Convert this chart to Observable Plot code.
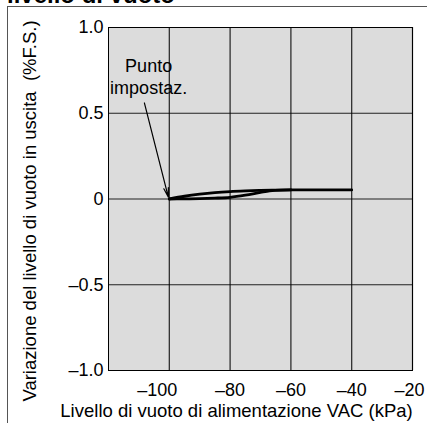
<!DOCTYPE html>
<html>
<head>
<meta charset="utf-8">
<script src="https://cdn.jsdelivr.net/npm/d3@7"></script>
<script src="https://cdn.jsdelivr.net/npm/@observablehq/plot@0.6"></script>
<style>
  html, body { margin: 0; padding: 0; background: #fff; }
  #wrap { position: relative; width: 427px; height: 423px; overflow: hidden; font-family: "Liberation Sans", Arial, sans-serif; }
  #title { position: absolute; left: 7px; top: -19px; font-size: 24px; line-height: 28px; font-weight: bold; color: #000; white-space: nowrap; }
  #border { position: absolute; left: 7px; top: 6px; width: 430px; height: 430px; border-left: 1.5px solid #555; border-top: 1.5px solid #555; }
  #chart { position: absolute; left: 0; top: 0; }
</style>
</head>
<body>
<div id="wrap">
  <div id="title">livello di vuoto</div>
  <div id="border"></div>
  <div id="chart"></div>
</div>
<script>
const xTicks = [-100, -80, -60, -40, -20];
const yTicks = [-1.0, -0.5, 0, 0.5, 1.0];
const yTickLabels = ["\u20131.0", "\u20130.5", "0", "0.5", "1.0"];
const xTickLabels = ["\u2013100", "\u201380", "\u201360", "\u201340", "\u201320"];

const upperX = [-100, -95, -90, -85, -80, -75, -70, -65, -60, -50, -40];
const upperY = [0, 0.016, 0.028, 0.037, 0.043, 0.047, 0.050, 0.052, 0.053, 0.053, 0.053];
const lowerX = [-100, -95, -90, -85, -80, -75, -70, -67, -63, -60];
const lowerY = [0, 0.001, 0.002, 0.005, 0.010, 0.022, 0.038, 0.047, 0.052, 0.053];

const annoLines = ["Punto", "impostaz."];
const arrowFrom = {x: -108.2, y: 0.56};
const arrowTo = {x: -100.3, y: 0.01};

const xLabel = "Livello di vuoto di alimentazione VAC (kPa)";
const yLabel = "Variazione del livello di vuoto in uscita  (%F.S.)";

const upper = upperX.map((x, i) => ({x, y: upperY[i]}));
const lower = lowerX.map((x, i) => ({x, y: lowerY[i]}));

const fmtX = d => xTickLabels[xTicks.indexOf(d)];
const axisXOpts = {tickSize: 0, tickPadding: 13, tickFormat: fmtX, fontSize: 18, label: null};

const chart = Plot.plot({
  width: 427,
  height: 423,
  marginLeft: 108,
  marginRight: 15,
  marginTop: 27,
  marginBottom: 53,
  style: {fontFamily: "Liberation Sans, Arial, sans-serif", fontSize: "18px", background: "transparent", color: "#000"},
  x: {domain: [-120, -20]},
  y: {domain: [-1, 1]},
  marks: [
    Plot.frame({fill: "#dcdcdc", stroke: null}),
    Plot.gridX(xTicks, {stroke: "#000", strokeOpacity: 0.85, strokeWidth: 1.2}),
    Plot.gridY(yTicks, {stroke: "#000", strokeOpacity: 0.85, strokeWidth: 1.2}),
    Plot.frame({stroke: "#000", strokeWidth: 1}),
    Plot.axisX([xTicks[0]], {...axisXOpts, dx: -12}),
    Plot.axisX(xTicks.slice(1, 4), axisXOpts),
    Plot.axisX([xTicks[4]], {...axisXOpts, dx: -3}),
    Plot.axisY({ticks: yTicks, tickSize: 0, tickPadding: 5, tickFormat: d => yTickLabels[yTicks.indexOf(d)], fontSize: 18, label: null}),
    Plot.line(upper, {x: "x", y: "y", curve: "monotone-x", stroke: "#000", strokeWidth: 2.8}),
    Plot.line(lower, {x: "x", y: "y", curve: "monotone-x", stroke: "#000", strokeWidth: 2.8}),
    Plot.arrow([{x1: arrowFrom.x, y1: arrowFrom.y, x2: arrowTo.x, y2: arrowTo.y}], {x1: "x1", y1: "y1", x2: "x2", y2: "y2", stroke: "#000", strokeWidth: 1.2, headLength: 12, headAngle: 28, bend: 0}),
    Plot.text([annoLines.join("\n")], {x: -106.8, y: 0.72, text: d => d, fontSize: 18, lineHeight: 1.22, textAnchor: "middle", fill: "#000"}),
    Plot.text([xLabel], {frameAnchor: "bottom", dx: -24, dy: 41, lineAnchor: "middle", textAnchor: "middle", text: d => d, fontSize: 18.5, fill: "#000"}),
    Plot.text([yLabel], {frameAnchor: "left", dx: -78, dy: 12, rotate: -90, lineAnchor: "middle", textAnchor: "middle", text: d => d, fontSize: 18.5, fill: "#000"})
  ]
});
document.getElementById("chart").appendChild(chart);
</script>
</body>
</html>
